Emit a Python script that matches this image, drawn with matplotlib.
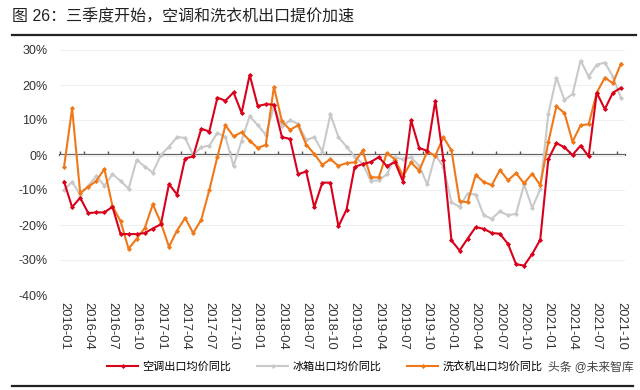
import numpy as np
import pandas as pd
import matplotlib
matplotlib.use("Agg")
import matplotlib.pyplot as plt
from matplotlib.lines import Line2D

plt.rcParams['font.family'] = ['Liberation Sans', 'Noto Sans CJK SC']
plt.rcParams['axes.unicode_minus'] = False

# monthly YoY change of export average price (%), 2016-01 .. 2021-10
months = pd.date_range('2016-01', periods=70, freq='MS').strftime('%Y-%m').tolist()

ac_yoy = [-7.6, -14.9, -12.2, -16.6, -16.4, -16.4, -14.8, -22.6, -22.6, -22.6,
          -22.3, -21.0, -19.8, -8.3, -11.3, -1.0, -0.4, 7.5, 6.7, 16.4,
          15.5, 17.9, 12.0, 22.9, 14.0, 14.5, 14.4, 5.1, 4.6, -5.5,
          -4.7, -14.9, -7.9, -7.9, -20.4, -15.6, -3.4, -2.6, -2.0, -0.6,
          -3.2, -2.0, -7.6, 9.9, 2.0, 1.2, 15.5, -1.3, -24.4, -27.3,
          -23.9, -20.6, -21.1, -22.3, -22.5, -25.4, -31.2, -31.6, -28.3, -24.2,
          -1.2, 3.4, 2.2, 0.0, 2.7, -0.4, 17.8, 13.1, 17.8, 19.2]

fridge_yoy = [-10.0, -7.7, -11.3, -8.8, -6.0, -8.8, -5.5, -7.4, -9.6, -1.4,
              -3.3, -5.0, 0.0, 2.4, 5.1, 4.9, 0.0, 2.2, 2.7, 6.3,
              5.1, -3.1, 4.1, 11.1, 8.5, 5.8, 13.8, 8.2, 9.9, 8.9,
              4.3, 5.1, 1.0, 11.6, 5.1, 2.4, -0.5, -2.5, -7.4, -7.2,
              -5.5, -0.7, -1.2, -0.7, -3.1, -8.4, 0.0, -3.4, -13.5, -14.8,
              -11.0, -11.3, -17.2, -18.2, -16.1, -17.2, -16.8, -8.4, -15.1, -9.8,
              11.8, 22.1, 15.7, 17.4, 27.0, 22.4, 25.8, 26.4, 22.4, 16.3]

washer_yoy = [-3.4, 13.3, -10.8, -9.1, -7.4, -4.0, -14.6, -18.9, -26.8, -23.9,
              -20.9, -14.1, -19.4, -26.2, -21.6, -18.0, -22.3, -18.5, -10.0, -0.5,
              8.5, 5.3, 6.5, 4.1, 2.0, 2.9, 19.5, 9.6, 7.2, 8.5,
              3.0, 0.3, -2.8, -1.2, -3.1, -2.3, -2.1, 1.3, -6.4, -6.4,
              0.6, -1.3, -6.0, -2.1, -4.5, 1.0, -0.2, 5.1, 1.3, -13.2,
              -13.5, -5.7, -7.7, -8.6, -4.3, -7.2, -5.2, -8.1, -5.3, -8.6,
              3.7, 13.9, 12.0, 3.8, 8.5, 8.8, 17.8, 22.1, 20.5, 26.1]

series_names = ['空调出口均价同比', '冰箱出口均价同比', '洗衣机出口均价同比']
colors = ['#d9001b', '#c9c9c9', '#f07818']

W, H = 640, 390
fig = plt.figure(figsize=(W / 100, H / 100), dpi=100)
ax = fig.add_axes([60 / W, 95 / H, 565 / W, 245 / H])

x = np.arange(len(months))
for vals, c in zip([fridge_yoy, washer_yoy, ac_yoy], [colors[1], colors[2], colors[0]]):
    ax.plot(x, vals, color=c, lw=1.5, marker='D', markersize=2.6,
            markeredgewidth=0, solid_joinstyle='round')

ax.set_xlim(-0.5, len(months) - 0.5)
ax.set_ylim(-40, 30)
ax.set_yticks(np.arange(-40, 31, 10))
ax.set_yticklabels([f'{v}%' for v in range(-40, 31, 10)])
ax.yaxis.grid(True, color='#efefef', lw=0.8)
ax.set_axisbelow(True)
for s in ax.spines.values():
    s.set_visible(False)

tick_idx = x[::3]
ax.set_xticks(tick_idx)
ax.set_xticklabels([months[i] for i in tick_idx], rotation=-90)
ax.tick_params(axis='x', length=0, pad=5, labelsize=9.3, colors='#333333')
ax.tick_params(axis='y', length=0, pad=9, labelsize=9, colors='#333333')

# zero line with small tick marks between categories
zero = ax.secondary_xaxis(40 / 70)
zero.set_xticks(tick_idx - 0.5)
zero.tick_params(direction='out', length=3, width=1, color='#555555',
                 labeltop=False, labelbottom=False)
for s in zero.spines.values():
    s.set_color('#5a5a5a')
    s.set_linewidth(1.6)

# title and rules
fig.text(12 / W, 1 - 17 / H, '图 26：三季度开始，空调和洗衣机出口提价加速',
         fontsize=11.5, ha='left', va='center', color='#222222')
fig.add_artist(Line2D([12 / W, 636 / W], [1 - 35 / H] * 2, color='#222222', lw=1.6))
fig.add_artist(Line2D([12 / W, 633 / W], [1 - 386 / H] * 2, color='#222222', lw=1.6))

handles = [Line2D([], [], color=c, lw=1.5, marker='D', markersize=2.6, markeredgewidth=0)
           for c in colors]
fig.legend(handles, series_names, loc='center', bbox_to_anchor=(325 / W, 1 - 366 / H),
           ncol=3, frameon=False, fontsize=8, handlelength=2.8, columnspacing=2.3,
           handletextpad=0.4)

fig.text(634 / W, 1 - 367 / H, '头条 @未来智库', fontsize=8.5, ha='right', va='center',
         color='#444444')

fig.savefig('out.png', dpi=100)
